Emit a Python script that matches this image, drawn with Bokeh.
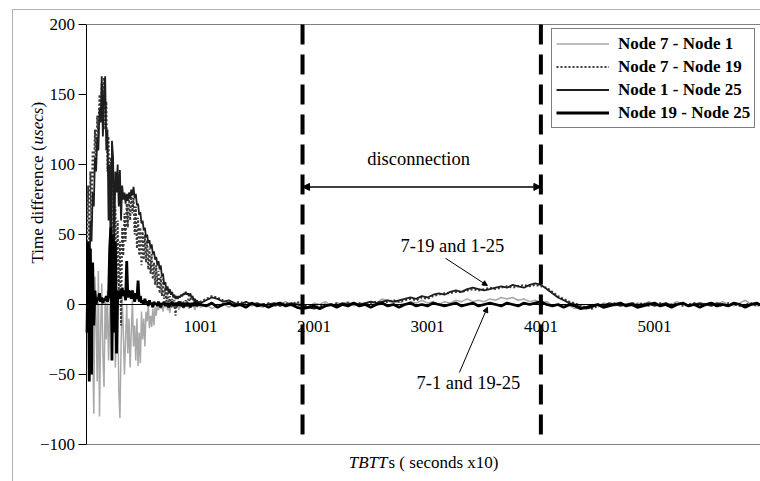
import math

from bokeh.plotting import figure
from bokeh.models import (Range1d, Label, Legend, LegendItem, Arrow, NormalHead,
                          BoxAnnotation, FixedTicker, LinearAxis)
from bokeh.embed import file_html
from bokeh.resources import INLINE

# ---------------------------------------------------------------- data
# sample index (TBTT count); dense sampling over the start-up transient,
# coarser sampling over the settled part of the run
x_early = list(range(1, 1000, 10))
x_late = list(range(1001, 5952, 50))

node7_node1_early = [
    0, -20, 5, -45, 10, -30, -78, 20, -10, -55,
    24, -80, -20, 15, -35, -59, 5, -25, 10, -40,
    -10, 20, -30, -5, 22, -45, -15, 10, -60, -81,
    -30, 5, -20, -50, -25, 0, -35, -10, -45, -20,
    3, -30, -15, -40, -10, -44, -20, -42, -5, -25,
    -10, -30, -5, -12, 0, -17, -8, -16, -3, -15,
    -2, -8, 0, -4, 1, -3, -1, -5, 0, -2,
    1, -4, -1, -6, 0, -2, -1, -3, 1, -2,
    0, -4, -1, -2, 1, -3, 0, -2, 1, -1,
    -3, 0, -2, 1, -1, -4, 0, -2, 1, -1,
]
node7_node1_late = [
    -2, 0, -3, -1, 1, -2, 0, -1, 2, -1,
    0, -2, 1, -1, 0, 2, -1, 1, 0, -2,
    1, 0, 2, -1, 1, 0, 2, -1, 1, 0,
    2, 1, 4, 3, 1, 2, 0, 2, 1, 3,
    1, 2, 0, 2, 1, 3, 2, 4, 2, 3,
    2, 4, 3, 5, 4, 5, 3, 4, 2, 3,
    1, 2, -1, 0, -2, -1, -3, -1, -2, 0,
    -1, 1, 0, -1, 1, 0, -1, 1, 0, 2,
    0, -1, 1, 0, 2, 0, -1, 1, 0, -1,
    1, 0, 2, 0, -1, 1, 3, 0, -1, 1,
]

node7_node19_early = [
    45, 85, 30, 95, 60, 110, 90, 125, 100, 135,
    120, 150, 130, 158, 140, 162, 125, 145, 95, 120,
    60, 105, 45, 90, 30, 70, 15, 60, 10, 45,
    -15, 55, 35, 65, 45, 72, 55, 78, 60, 80,
    65, 76, 50, 70, 40, 62, 35, 55, 28, 52,
    32, 50, 30, 46, 25, 40, 22, 36, 18, 30,
    14, 28, 12, 24, 8, 20, 6, 18, 4, 12,
    2, 9, 0, 6, -2, 4, -1, 3, -8, 2,
    2, 0, 3, 1, -1, 2, 0, 3, 1, 4,
    2, 5, 3, 4, 2, 3, 1, 2, 0, 1,
]
node7_node19_late = [
    2, 4, 6, 5, 3, 2, 1, 2, 0, 1,
    -1, 0, 1, -1, 0, 1, 0, 2, 0, -1,
    -2, -1, 0, -1, 1, 0, 1, 0, 1, 0,
    1, 2, 1, 2, 3, 2, 3, 4, 3, 5,
    4, 6, 7, 8, 8, 9, 9, 10, 11, 10,
    11, 12, 11, 12, 13, 12, 13, 14, 13, 14,
    13, 12, 9, 6, 4, 2, 1, -1, -2, -3,
    -1, 0, -1, 1, 0, -1, 1, 0, 1, -1,
    0, 1, -1, 0, 1, -1, 0, 1, -1, 0,
    1, 0, -1, 1, 0, -1, 0, 1, -1, 0,
]

node1_node25_early = [
    20, 40, 10, 60, 45, 80, 70, 105, 95, 120,
    110, 140, 130, 163, 120, 150, 163, 110, 125, 60,
    100, 20, 117, 105, 40, 95, 80, 100, 70, 96,
    60, 85, 75, 80, 72, 79, 74, 80, 76, 82,
    78, 84, 76, 79, 71, 72, 64, 66, 58, 60,
    53, 55, 48, 50, 44, 46, 40, 43, 36, 38,
    32, 34, 28, 31, 25, 28, 20, 22, 14, 16,
    10, 13, 8, 11, 7, 9, 5, 7, 4, 6,
    4, 6, 5, 7, 6, 8, 7, 9, 7, 8,
    6, 8, 5, 6, 3, 4, 2, 3, 1, 2,
]
node1_node25_late = [
    1, 3, 5, 4, 2, 3, 1, 0, 2, 0,
    1, -1, 0, 1, -1, 0, 1, 0, -1, -2,
    -3, -2, -1, 0, -1, 1, 0, 1, 0, 1,
    2, 1, 2, 3, 2, 3, 4, 5, 4, 6,
    5, 7, 8, 7, 9, 10, 9, 11, 12, 11,
    10, 11, 12, 13, 12, 14, 13, 12, 14, 15,
    14, 11, 8, 5, 3, 1, 0, -2, -3, -2,
    0, -1, 1, 0, -1, 0, 1, -1, 0, 1,
    -1, 0, 1, -1, 0, 1, -1, 0, 1, 0,
    -1, 1, 0, -1, 1, 0, -1, 0, 1, -1,
]

node19_node25_early = [
    -20, 45, -55, 40, -50, 30, -15, 10, 0, 5,
    3, 8, 2, 5, 1, 4, 3, 6, 2, 5,
    40, 55, -40, 50, -20, 45, -35, 5, 10, 4,
    8, 12, 6, 10, 3, 31, 5, 10, 8, 4,
    10, 6, 2, 8, 4, 17, 2, 6, 1, 3,
    0, 4, 1, 2, -1, 3, 0, 1, -2, 2,
    0, 1, -1, 2, 0, -2, 1, 0, 2, -1,
    1, 0, -2, 1, 0, 2, -1, 0, 1, -1,
    0, 2, -1, 1, 0, -2, 1, 0, -1, 1,
    0, -2, 1, 0, -1, 2, 0, -1, 1, 0,
]
node19_node25_late = [
    0, -1, 1, -2, 0, 1, -1, 0, -2, 1,
    -1, 0, -2, 0, 1, -1, 0, -2, -3, -2,
    -1, -3, -1, 0, -2, 0, -1, 1, -1, 0,
    -2, 0, 1, -1, 0, -2, 0, 1, -1, 0,
    -1, 1, 0, -1, 0, 1, -1, 0, 1, -1,
    0, 1, 0, -1, 1, 0, -1, 1, 0, 1,
    2, 0, -1, 0, -2, 0, -1, -3, -2, -1,
    0, -2, -1, 0, 1, -1, 0, -2, -1, 0,
    1, -1, 0, -2, 0, 1, -1, 0, -2, 0,
    1, -1, 0, -1, 1, 0, -2, 0, 1, -1,
]

series_names = ["Node 7 - Node 1", "Node 7 - Node 19",
                "Node 1 - Node 25", "Node 19 - Node 25"]

y_ticks = [-100, -50, 0, 50, 100, 150, 200]
x_ticks = [1001, 2001, 3001, 4001, 5001]

# start and end of the link outage
disconnect_start = 1900
disconnect_end = 4000

# ---------------------------------------------------------------- layout
# The frame fills the whole canvas so that the titles and the chart border
# can live outside the plotting area; the axes are pinned with fixed_location.
X_MIN, X_MAX = 1, 5935          # extent of the plotting area
Y_MIN, Y_MAX = -100, 200
SERIF = "Liberation Serif"

p = figure(width=760, height=481, output_backend="svg", toolbar_location=None,
           x_axis_type=None, y_axis_type=None,
           x_range=Range1d(-761.1, 5934.9), y_range=Range1d(-126.43, 217.14),
           min_border=0)
p.background_fill_color = "white"
p.border_fill_color = "white"
p.outline_line_color = None

yax = LinearAxis(fixed_location=X_MIN, bounds=(Y_MIN, Y_MAX),
                 ticker=FixedTicker(ticks=y_ticks))
yax.major_tick_out = 8
yax.major_tick_in = 0
yax.minor_tick_line_color = None
yax.axis_line_color = "black"
yax.major_tick_line_color = "black"
yax.major_label_standoff = 4
yax.major_label_text_font = SERIF
yax.major_label_text_font_size = "17px"
yax.major_label_text_color = "black"
p.add_layout(yax, "left")

# category axis crossing at zero
xax = LinearAxis(fixed_location=0, bounds=(X_MIN, X_MAX),
                 ticker=FixedTicker(ticks=x_ticks))
xax.major_tick_out = 0
xax.major_tick_in = 0
xax.minor_tick_line_color = None
xax.axis_line_color = "black"
xax.major_label_standoff = 17
xax.major_label_text_font = SERIF
xax.major_label_text_font_size = "17px"
xax.major_label_text_color = "black"
p.add_layout(xax, "below")

# outer chart border
p.add_layout(BoxAnnotation(left=-655.4, right=9000, top=210.71, bottom=-400,
                           fill_alpha=0, line_color="black", line_width=1))

# plot-area border (top and bottom edges)
p.segment(x0=[X_MIN, X_MIN], y0=[Y_MAX, Y_MIN], x1=[X_MAX, X_MAX], y1=[Y_MAX, Y_MIN],
          line_color="#808080", line_width=1)

# ---------------------------------------------------------------- series
xs = x_early + x_late
r1 = p.line(xs, node7_node1_early + node7_node1_late,
            line_color="#a8a8a8", line_width=1.5)
r2 = p.line(xs, node7_node19_early + node7_node19_late,
            line_color="#3a3a3a", line_width=2, line_dash="2 2")
r3 = p.line(xs, node1_node25_early + node1_node25_late,
            line_color="#1e1e1e", line_width=1.8)
r4 = p.line(xs, node19_node25_early + node19_node25_late,
            line_color="black", line_width=2.8)

# disconnection markers
p.segment(x0=[disconnect_start, disconnect_end], y0=[Y_MAX, Y_MAX],
          x1=[disconnect_start, disconnect_end], y1=[Y_MIN, Y_MIN],
          line_color="black", line_width=4, line_dash="20 10")

p.add_layout(Arrow(start=NormalHead(size=7, fill_color="black", line_color="black"),
                   end=NormalHead(size=7, fill_color="black", line_color="black"),
                   x_start=disconnect_start, y_start=84,
                   x_end=disconnect_end, y_end=84,
                   line_color="black", line_width=1.5))


def note(x, y, text, size="18.5px", align="center", style="normal", angle=0):
    p.add_layout(Label(x=x, y=y, text=text, text_font=SERIF, text_font_size=size,
                       text_color="black", text_align=align, text_baseline="middle",
                       text_font_style=style, angle=angle))


note(2922, 104, "disconnection")
note(3221, 42, "7-19 and 1-25")
note(3362, -56, "7-1 and 19-25")

p.add_layout(Arrow(end=NormalHead(size=5, fill_color="black", line_color="black"),
                   x_start=3160, y_start=33, x_end=3529, y_end=13.5,
                   line_color="black", line_width=1))
p.add_layout(Arrow(end=NormalHead(size=5, fill_color="black", line_color="black"),
                   x_start=3282, y_start=-48.6, x_end=3529, y_end=-2,
                   line_color="black", line_width=1))

# axis titles (mixed italic / upright runs)
note(2648.6, -112.9, "TBTT", size="17px", align="right", style="italic")
note(2657.4, -112.9, "s ( seconds x10)", size="17px", align="left")

note(-435, 29.3, "Time difference (", size="17px", align="left", angle=math.pi / 2)
note(-435, 114.3, "usecs", size="17px", align="left", angle=math.pi / 2, style="italic")
note(-435, 140.7, " )", size="17px", align="left", angle=math.pi / 2)

# ---------------------------------------------------------------- legend
legend = Legend(items=[LegendItem(label=n, renderers=[r])
                       for n, r in zip(series_names, [r1, r2, r3, r4])],
                location=(551, 353))
legend.border_line_color = "black"
legend.border_line_width = 1
legend.background_fill_color = "white"
legend.background_fill_alpha = 1
legend.label_text_font = SERIF
legend.label_text_font_style = "bold"
legend.label_text_font_size = "17px"
legend.label_text_color = "black"
legend.glyph_width = 53
legend.glyph_height = 21
legend.label_height = 21
legend.label_standoff = 9
legend.spacing = 2
legend.padding = 4
legend.margin = 0
p.add_layout(legend)

open("out.html", "w").write(file_html(p, INLINE))
